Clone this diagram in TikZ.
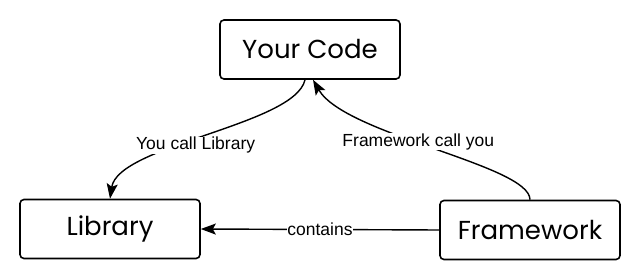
\documentclass[tikz,border=0pt]{standalone}
\usepackage{fontspec}
\setmainfont{Poppins}
\newfontfamily\labelfont{Liberation Sans}
\usetikzlibrary{arrows.meta}
\tikzset{
  box/.style={draw, line width=1.6pt, rounded corners=4pt, minimum width=180pt, minimum height=59pt, inner sep=0pt, font=\fontsize{26}{28}\selectfont},
  conn/.style={line width=1.4pt, -{Stealth[length=15pt,width=11pt,inset=3pt]}},
  lbl/.style={font=\labelfont\fontsize{17.5}{20}\selectfont, fill=white, inner sep=0.5pt},
}
\begin{document}
\begin{tikzpicture}[x=1pt,y=-1pt]
\useasboundingbox (0,0) rectangle (640,272);
\node[box] (code) at (310,49.5) {Your Code};
\node[box] (lib) at (110,229) {Library};
\node[box] (fw) at (530,230) {Framework};
\draw[conn] (fw.west) -- node[lbl] {contains} (lib.east);
\draw[conn] (fw.north) .. controls (530,165) and (345,135) .. node[lbl, pos=0.55] {Framework call you} ([xshift=3pt]code.south);
\draw[conn] ([xshift=-5pt]code.south) .. controls (295,125) and (118,145) .. node[lbl, pos=0.54, yshift=-5pt] {You call Library} ([xshift=0pt]lib.north);
\end{tikzpicture}
\end{document}
